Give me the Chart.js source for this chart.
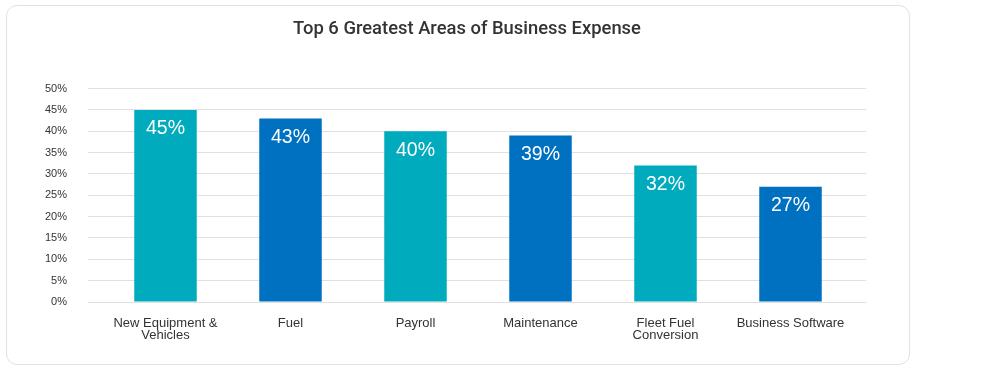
<!DOCTYPE html>
<html>
<head>
<meta charset="utf-8">
<script src="https://cdn.jsdelivr.net/npm/chart.js@4/dist/chart.umd.min.js"></script>
<style>
  html, body { margin: 0; padding: 0; background: #fff; width: 1000px; height: 369px; overflow: hidden; }
  #card { position: absolute; left: 6px; top: 5px; width: 902px; height: 358px; border: 1px solid #e2e2e2; border-radius: 11px; }
  #wrap { position: absolute; left: 0; top: 0; width: 934px; height: 369px; }
</style>
</head>
<body>
<div id="card"></div>
<div id="wrap"><canvas id="c" width="934" height="369"></canvas></div>
<script>
const categories = [["New Equipment &", "Vehicles"], "Fuel", "Payroll", "Maintenance", ["Fleet Fuel", "Conversion"], "Business Software"];
const values = [45, 43, 40, 39, 32, 27];
const barColors = ["#00ABBD", "#0070C0", "#00ABBD", "#0070C0", "#00ABBD", "#0070C0"];
const yTicks = [0, 5, 10, 15, 20, 25, 30, 35, 40, 45, 50];
const titleText = "Top 6 Greatest Areas of Business Expense";

const FONT = "'Liberation Sans', Arial, sans-serif";

const valueLabels = {
  id: 'valueLabels',
  afterDatasetsDraw(chart) {
    const ctx = chart.ctx;
    const meta = chart.getDatasetMeta(0);
    ctx.save();
    ctx.fillStyle = '#ffffff';
    ctx.font = '19.5px ' + FONT;
    ctx.textAlign = 'center';
    ctx.textBaseline = 'middle';
    meta.data.forEach((bar, i) => {
      ctx.fillText(values[i] + '%', bar.x, bar.y + 19);
    });
    ctx.restore();
  }
};

new Chart(document.getElementById('c'), {
  type: 'bar',
  data: {
    datasets: [{
      data: values.map((v, i) => ({ x: i, y: v })),
      backgroundColor: barColors,
      borderWidth: 0,
      barPercentage: 0.5,
      categoryPercentage: 1.0
    }]
  },
  options: {
    responsive: false,
    animation: false,
    events: [],
    layout: { padding: 0 },
    plugins: {
      legend: { display: false },
      tooltip: { enabled: false },
      title: {
        display: true,
        text: titleText,
        color: '#333333',
        font: { family: "Roboto, 'Liberation Sans', sans-serif", size: 18.4, weight: '500', lineHeight: 1.2 },
        padding: { top: 18, bottom: 48.5 }
      }
    },
    scales: {
      x: {
        type: 'linear',
        offset: false,
        min: -0.62,
        max: 5.604,
        grid: { display: false },
        border: { display: false },
        afterFit(scale) { scale.height = 67; },
        afterBuildTicks(scale) { scale.ticks = categories.map((_, i) => ({ value: i })); },
        ticks: {
          autoSkip: false,
          maxRotation: 0,
          padding: 7,
          color: '#333333',
          font: { family: FONT, size: 13, lineHeight: 0.97 },
          callback: (v) => categories[v] !== undefined ? categories[v] : ''
        }
      },
      y: {
        min: 0,
        max: 50,
        afterFit(scale) { scale.width = 88; },
        afterBuildTicks(scale) { scale.ticks = yTicks.map(v => ({ value: v })); },
        grid: { color: '#e0e0e0', lineWidth: 1, drawTicks: false },
        border: { display: false },
        ticks: {
          padding: 21,
          color: '#333333',
          font: { family: FONT, size: 11 },
          callback: (v) => v + '%'
        }
      },
      yRight: {
        type: 'linear',
        position: 'right',
        display: true,
        grid: { display: false },
        border: { display: false },
        ticks: { display: false },
        afterFit(scale) { scale.width = 68; }
      }
    }
  },
  plugins: [valueLabels]
});
</script>
</body>
</html>
